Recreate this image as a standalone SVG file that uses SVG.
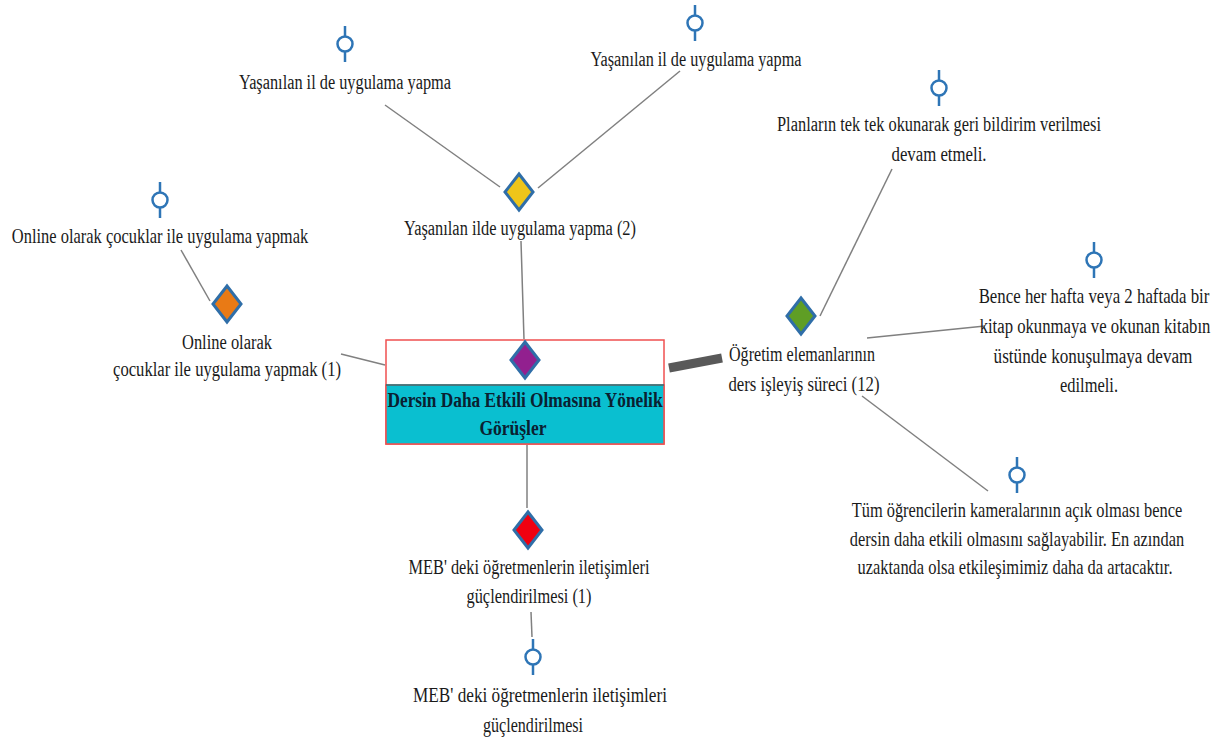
<svg xmlns="http://www.w3.org/2000/svg" width="1220" height="740" viewBox="0 0 1220 740">
<style>
text{font-family:"Liberation Serif","Times New Roman",serif;font-size:20px;fill:#1a1a1a;text-anchor:middle}
.c line{stroke:#808080;stroke-width:1.5}
.d{stroke:#2f6ea8;stroke-width:3}
.o circle{fill:#fff;stroke:#2e75b6;stroke-width:2.5}
.o line{stroke:#2e75b6;stroke-width:2.5}
.t{font-weight:bold;fill:#0a2030}
</style>
<defs>
<g id="pin" class="o"><line x1="0" y1="-18" x2="0" y2="18"/><circle r="7.5"/></g>
<polygon id="dia" points="0,-18 14,0 0,18 -14,0"/>
</defs>
<rect width="1220" height="740" fill="#fff"/>
<g id="connectors" class="c">
<line x1="385" y1="105" x2="500" y2="187"/>
<line x1="680" y1="71" x2="538" y2="188"/>
<line x1="521" y1="241" x2="524" y2="339"/>
<line x1="181" y1="250" x2="210" y2="301"/>
<line x1="341" y1="354" x2="385" y2="365"/>
<line x1="527" y1="445" x2="527" y2="508"/>
<line x1="531" y1="612" x2="532" y2="637"/>
<line x1="892" y1="169" x2="820" y2="316"/>
<line x1="867" y1="338" x2="985" y2="326"/>
<line x1="862" y1="396" x2="988" y2="491"/>
<line x1="669" y1="368" x2="722" y2="358" style="stroke:#595959;stroke-width:9"/>
</g>
<g id="center">
<rect x="386" y="340" width="278" height="104" fill="#fff" stroke="#f05050" stroke-width="1.5"/>
<rect x="386" y="385" width="278" height="59" fill="#0abfd0" stroke="#f05050" stroke-width="1.5"/>
<line x1="386" y1="385" x2="664" y2="385" stroke="#1f7a80" stroke-width="1.5"/>
<use href="#dia" x="525" y="360" fill="#92208f" class="d"/>
<text class="t" x="525" y="407" textLength="275" lengthAdjust="spacingAndGlyphs">Dersin Daha Etkili Olmasına Yönelik</text>
<text class="t" x="513" y="435" textLength="67" lengthAdjust="spacingAndGlyphs">Görüşler</text>
</g>
<g id="n1"><use href="#pin" x="345" y="44"/><text x="345" y="89" textLength="212" lengthAdjust="spacingAndGlyphs">Yaşanılan il de uygulama yapma</text></g>
<g id="n2"><use href="#pin" x="695" y="23"/><text x="696" y="66" textLength="211" lengthAdjust="spacingAndGlyphs">Yaşanılan il de uygulama yapma</text></g>
<g id="n3"><use href="#dia" x="519" y="192" fill="#eec51a" class="d"/><text x="520" y="235" textLength="232" lengthAdjust="spacingAndGlyphs">Yaşanılan ilde uygulama yapma (2)</text></g>
<g id="n4"><use href="#pin" x="160" y="200"/><text transform="translate(160 243) scale(.823 1)">Online olarak çocuklar ile uygulama yapmak</text></g>
<g id="n5"><use href="#dia" x="227" y="304" fill="#e97a15" class="d"/><text x="227" y="349" textLength="90" lengthAdjust="spacingAndGlyphs">Online olarak</text><text x="227" y="376" textLength="228" lengthAdjust="spacingAndGlyphs">çocuklar ile uygulama yapmak (1)</text></g>
<g id="n6"><use href="#dia" x="528" y="530" fill="#f00010" class="d"/><text x="529" y="574" textLength="241" lengthAdjust="spacingAndGlyphs">MEB' deki öğretmenlerin iletişimleri</text><text x="529" y="603" textLength="125" lengthAdjust="spacingAndGlyphs">güçlendirilmesi (1)</text></g>
<g id="n7"><use href="#pin" x="533" y="657"/><text x="540" y="702" textLength="254" lengthAdjust="spacingAndGlyphs">MEB' deki öğretmenlerin iletişimleri</text><text x="533" y="732" textLength="100" lengthAdjust="spacingAndGlyphs">güçlendirilmesi</text></g>
<g id="n8"><use href="#pin" x="939" y="88"/><text x="939" y="131" textLength="324" lengthAdjust="spacingAndGlyphs">Planların tek tek okunarak geri bildirim verilmesi</text><text x="939" y="161" textLength="95" lengthAdjust="spacingAndGlyphs">devam etmeli.</text></g>
<g id="n9"><use href="#dia" x="801" y="316" fill="#5f9e25" class="d"/><text x="802" y="361" textLength="146" lengthAdjust="spacingAndGlyphs">Öğretim elemanlarının</text><text x="804" y="391" textLength="151" lengthAdjust="spacingAndGlyphs">ders işleyiş süreci (12)</text></g>
<g id="n10"><use href="#pin" x="1094" y="260"/><text transform="translate(1094 303) scale(.842 1)">Bence her hafta veya 2 haftada bir</text><text transform="translate(1095 333) scale(.835 1)">kitap okunmaya ve okunan kitabın</text><text transform="translate(1093 363) scale(.857 1)">üstünde konuşulmaya devam</text><text x="1089" y="392" textLength="58" lengthAdjust="spacingAndGlyphs">edilmeli.</text></g>
<g id="n11"><use href="#pin" x="1017" y="475"/><text transform="translate(1017 517) scale(.82 1)">Tüm öğrencilerin kameralarının açık olması bence</text><text transform="translate(1017 546) scale(.82 1)">dersin daha etkili olmasını sağlayabilir. En azından</text><text transform="translate(1015 574) scale(.823 1)">uzaktanda olsa etkileşimimiz daha da artacaktır.</text></g>
</svg>
